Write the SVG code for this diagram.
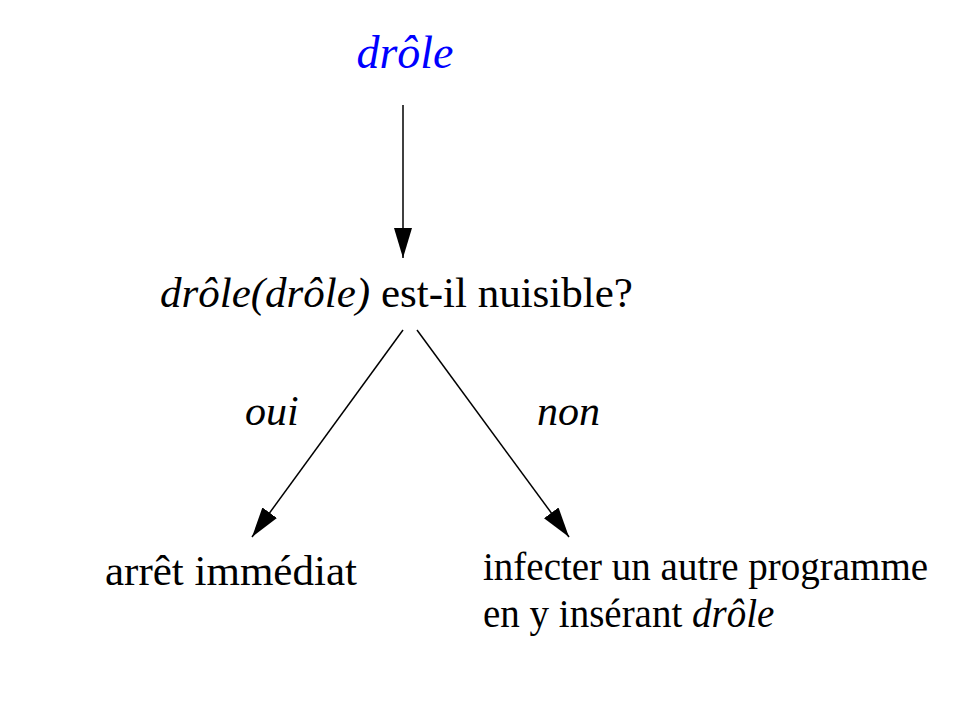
<svg xmlns="http://www.w3.org/2000/svg" width="966" height="706" viewBox="0 0 966 706">
<defs>
<style>
text{font-family:"Liberation Serif","Times New Roman",serif;fill:#000}
.i{font-style:italic}
.c{stroke:#000;stroke-width:1.5;fill:none}
</style>
<marker id="ah" markerUnits="userSpaceOnUse" markerWidth="32" markerHeight="18" refX="30" refY="9" orient="auto" viewBox="0 0 32 18">
<path d="M0,0 L30,9 L0,18 Z" fill="#000"/>
</marker>
</defs>
<rect width="966" height="706" fill="#fff"/>
<g id="connectors">
<line class="c" x1="403" y1="105" x2="403" y2="258" marker-end="url(#ah)"/>
<line class="c" x1="403" y1="330" x2="252" y2="537" marker-end="url(#ah)"/>
<line class="c" x1="417" y1="330" x2="569" y2="537" marker-end="url(#ah)"/>
<text class="i" x="245" y="425" font-size="42">oui</text>
<text class="i" x="537" y="425" font-size="42">non</text>
</g>
<g id="n-drole">
<text class="i" x="405" y="68" font-size="46" text-anchor="middle" style="fill:#0000ff">drôle</text>
</g>
<g id="n-question">
<text x="160" y="307" font-size="43"><tspan class="i">drôle(drôle)</tspan> est-il nuisible?</text>
</g>
<g id="n-arret">
<text x="105" y="585" font-size="43">arrêt immédiat</text>
</g>
<g id="n-infecter">
<text x="483" y="580" font-size="39">infecter un autre programme</text>
<text x="483" y="627" font-size="39">en y insérant <tspan class="i">drôle</tspan></text>
</g>
</svg>
